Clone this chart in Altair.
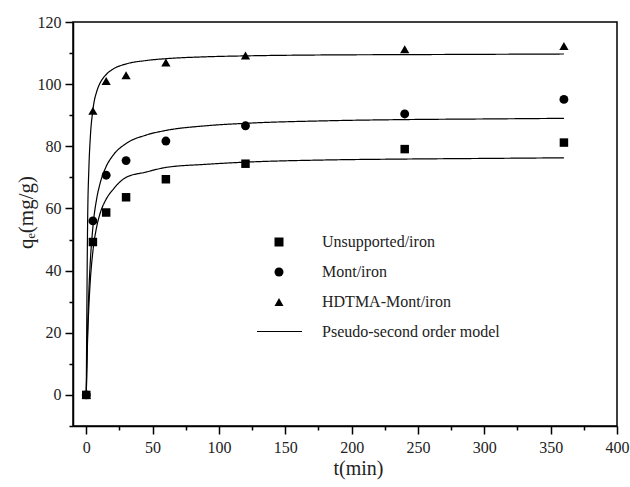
import altair as alt
import pandas as pd

# Experimental data
t_exp = [0, 5, 15, 30, 60, 120, 240, 360]
q_unsupported = [0, 49.2, 58.7, 63.6, 69.4, 74.4, 79.1, 81.2]
q_mont = [0, 56.0, 70.7, 75.4, 81.7, 86.6, 90.4, 95.1]
q_hdtma = [0, 91.4, 101.0, 102.9, 107.0, 109.2, 111.2, 112.3]

# Pseudo-second order model curves
t_fit = [0, 1, 2, 3, 5, 8, 10, 15, 20, 30, 45, 60, 90, 120, 180, 240, 300, 360]
fit_unsupported = [0, 17.8, 28.9, 36.5, 46.2, 54.4, 57.8, 63.0, 66.0, 70.0, 71.7,
                   73.2, 74.2, 74.9, 75.6, 75.9, 76.1, 76.3]
fit_mont = [0, 20.8, 33.8, 42.6, 54.0, 63.5, 67.4, 73.5, 77.0, 80.9, 83.6,
            85.1, 86.6, 87.4, 88.2, 88.6, 88.8, 89.0]
fit_hdtma = [0, 55.0, 73.3, 82.5, 91.7, 97.8, 100.0, 103.1, 104.8, 106.5, 107.6,
             108.2, 108.8, 109.1, 109.4, 109.5, 109.6, 109.7]

series = ["Unsupported/iron", "Mont/iron", "HDTMA-Mont/iron"]
model_label = "Pseudo-second order model"

x_major = list(range(0, 401, 50))
x_minor = list(range(25, 400, 50))
y_major = list(range(0, 121, 20))
y_minor = list(range(-10, 120, 20))

pts = pd.DataFrame(
    [{"t": t, "q": q, "series": s}
     for s, qs in zip(series, [q_unsupported, q_mont, q_hdtma])
     for t, q in zip(t_exp, qs)]
)
fits = pd.DataFrame(
    [{"t": t, "q": q, "series": s, "model": model_label}
     for s, qs in zip(series, [fit_unsupported, fit_mont, fit_hdtma])
     for t, q in zip(t_fit, qs)]
)

FONT = "Liberation Serif"
TXT = "#222"

x_scale = alt.Scale(domain=[-10, 400], nice=False, zero=False)
y_scale = alt.Scale(domain=[-10, 120], nice=False, zero=False)

common = dict(grid=False, domainColor="black", tickColor="black",
              domainWidth=1.5, tickWidth=1.5)

x_axis = alt.Axis(
    title="t(min)", values=x_major, tickSize=8, orient="bottom",
    labelFont=FONT, labelFontSize=16, labelColor=TXT,
    titleFont=FONT, titleFontSize=20, titleFontWeight="normal", titleColor=TXT,
    titleX=285, titleY=42, titleAlign="center", titleBaseline="middle",
    labelPadding=5, labelFlush=False, labelOverlap=False,
    **common,
)
y_axis = alt.Axis(
    title="qₑ(mg/g)", values=y_major, tickSize=8, orient="left",
    labelFont=FONT, labelFontSize=16, labelColor=TXT,
    titleFont=FONT, titleFontSize=21, titleFontWeight="normal", titleColor=TXT,
    titleX=-47, titleY=190, titleAlign="center", titleBaseline="middle", titleAngle=-90,
    labelPadding=4, labelFlush=False, labelOverlap=False,
    **common,
)
x_axis_minor = alt.Axis(title=None, values=x_minor, tickSize=4, labels=False,
                        domain=False, orient="bottom", grid=False,
                        tickColor="black", tickWidth=1.5)
y_axis_minor = alt.Axis(title=None, values=y_minor, tickSize=4, labels=False,
                        domain=False, orient="left", grid=False,
                        tickColor="black", tickWidth=1.5)

lines = alt.Chart(fits).mark_line(strokeWidth=1.2, interpolate="monotone").encode(
    x=alt.X("t:Q", scale=x_scale, axis=x_axis),
    y=alt.Y("q:Q", scale=y_scale, axis=y_axis),
    detail="series:N",
    strokeDash=alt.StrokeDash(
        "model:N",
        scale=alt.Scale(domain=[model_label], range=[[1, 0]]),
        legend=alt.Legend(
            title=None, orient="none", legendX=183, legendY=286,
            labelFont=FONT, labelFontSize=16, labelColor=TXT, labelLimit=400,
            symbolType="stroke", symbolSize=2025, symbolStrokeWidth=1.2,
            symbolStrokeColor="black",
            labelOffset=19, padding=0,
        ),
    ),
    color=alt.value("black"),
)

points = alt.Chart(pts).mark_point(
    filled=True, color="black", opacity=1
).encode(
    x=alt.X("t:Q", scale=x_scale, axis=x_axis_minor),
    y=alt.Y("q:Q", scale=y_scale, axis=y_axis_minor),
    shape=alt.Shape(
        "series:N",
        scale=alt.Scale(domain=series, range=["square", "circle", "triangle-up"]),
        legend=alt.Legend(
            title=None, orient="none", legendX=198, legendY=212,
            labelFont=FONT, labelFontSize=16, labelColor=TXT, labelLimit=400,
            symbolSize=81, symbolFillColor="black",
            labelOffset=35, rowPadding=14, padding=0,
        ),
    ),
    size=alt.Size("series:N", scale=alt.Scale(domain=series, range=[72, 85, 110]),
                  legend=None),
)

chart = (
    alt.layer(lines, points)
    .resolve_axis(x="independent", y="independent")
    .resolve_legend(shape="independent", strokeDash="independent")
    .properties(
        width=544, height=404,
        autosize=alt.AutoSizeParams(type="none"),
        padding={"left": 73, "top": 22, "right": 13, "bottom": 61},
        background="white",
    )
    .configure_view(stroke="black", strokeWidth=1.5)
)

chart.save("out.html", embed_options={"renderer": "svg", "actions": False})
